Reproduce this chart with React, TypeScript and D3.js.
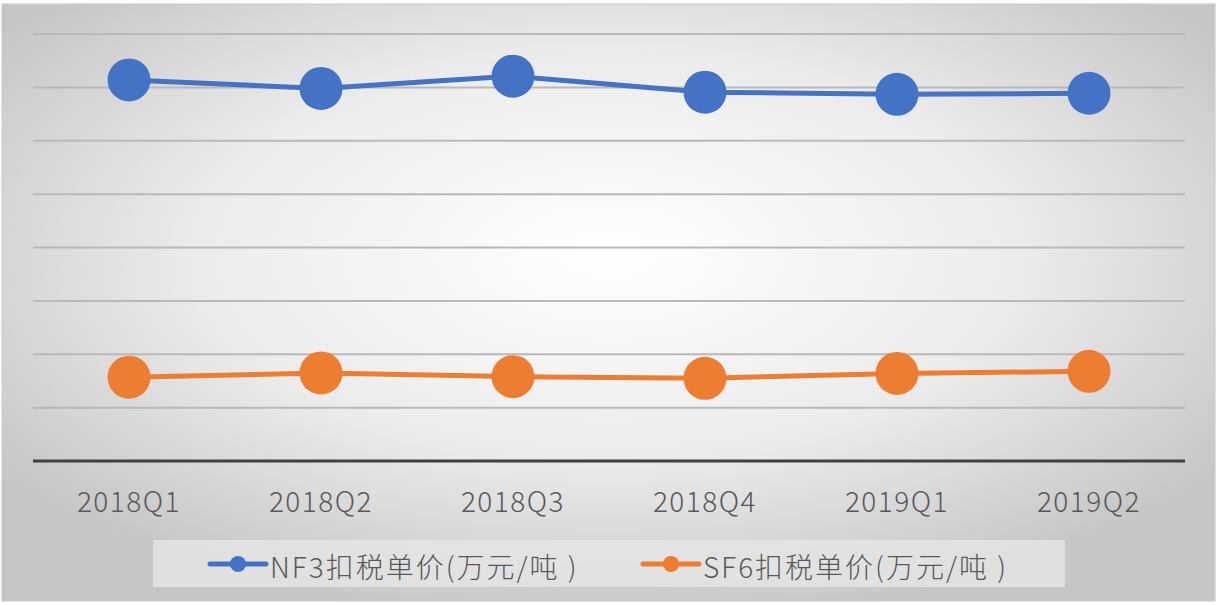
import React from 'react'
import * as d3 from 'd3'

const quarters = ['2018Q1', '2018Q2', '2018Q3', '2018Q4', '2019Q1', '2019Q2']
const nf3Price = [35.7, 34.9, 36.05, 34.55, 34.35, 34.45]
const sf6Price = [7.85, 8.25, 7.9, 7.75, 8.2, 8.4]
const seriesNames = ['NF3扣税单价(万元/吨 )', 'SF6扣税单价(万元/吨 )']
const seriesColors = ['#4472c4', '#ed7d31']
const gridTicks = [5, 10, 15, 20, 25, 30, 35, 40]

const W = 1227
const H = 605
const margin = {left: 33, right: 42, top: 34, bottom: 144}
const font = '"Noto Sans CJK SC", "Noto Sans", sans-serif'

export default function App() {
  const x = d3
    .scaleBand()
    .domain(quarters)
    .range([margin.left, W - margin.right])
  const y = d3
    .scaleLinear()
    .domain([0, 40])
    .range([H - margin.bottom, margin.top])

  const line = d3
    .line<number>()
    .x((d, i) => x(quarters[i])! + x.bandwidth() / 2)
    .y((d) => y(d))

  const allSeries = [nf3Price, sf6Price]
  const legendX = [210, 643]

  return (
    <svg
      width={W}
      height={H}
      style={{position: 'absolute', left: 0, top: 0, display: 'block'}}
    >
      <defs>
        <radialGradient id="bg" cx="0.5" cy="0.42" r="0.62">
          <stop offset="0" stopColor="#ffffff" />
          <stop offset="0.55" stopColor="#ebebeb" />
          <stop offset="1" stopColor="#c6c6c6" />
        </radialGradient>
      </defs>
      <rect x={0} y={0} width={W} height={H} fill="#ffffff" />
      <rect x={2} y={4} width={1213} height={597} fill="url(#bg)" stroke="#c8c8c8" strokeWidth={1} />

      {/* gridlines */}
      {gridTicks.map((t) => (
        <line
          key={t}
          x1={margin.left}
          x2={W - margin.right}
          y1={y(t)}
          y2={y(t)}
          stroke="#b9b9b9"
          strokeWidth={2}
        />
      ))}
      <line
        x1={margin.left}
        x2={W - margin.right}
        y1={y(0)}
        y2={y(0)}
        stroke="#404040"
        strokeWidth={3}
      />

      {/* category labels */}
      {quarters.map((q) => (
        <text
          key={q}
          x={x(q)! + x.bandwidth() / 2}
          y={512}
          textAnchor="middle"
          fontFamily={font}
          fontWeight={300}
          fontSize={28}
          letterSpacing={1.5}
          fill="#595959"
        >
          {q}
        </text>
      ))}

      {/* series */}
      {allSeries.map((s, si) => (
        <g key={si}>
          <path d={line(s)!} fill="none" stroke={seriesColors[si]} strokeWidth={5} />
          {s.map((v, i) => (
            <circle
              key={i}
              cx={x(quarters[i])! + x.bandwidth() / 2}
              cy={y(v)}
              r={21.5}
              fill={seriesColors[si]}
            />
          ))}
        </g>
      ))}

      {/* legend */}
      <rect x={153} y={540} width={912} height={47} fill="#e6e6e6" opacity={0.8} />
      {seriesNames.map((name, i) => (
        <g key={name}>
          <line
            x1={legendX[i]}
            x2={legendX[i] + 56}
            y1={564}
            y2={564}
            stroke={seriesColors[i]}
            strokeWidth={5}
            strokeLinecap="round"
          />
          <circle cx={legendX[i] + 28} cy={564} r={8} fill={seriesColors[i]} />
          <text
            x={legendX[i] + 60}
            y={578}
            fontFamily={font}
            fontWeight={300}
            fontSize={28}
            letterSpacing={2}
            fill="#595959"
          >
            {name}
          </text>
        </g>
      ))}
    </svg>
  )
}
